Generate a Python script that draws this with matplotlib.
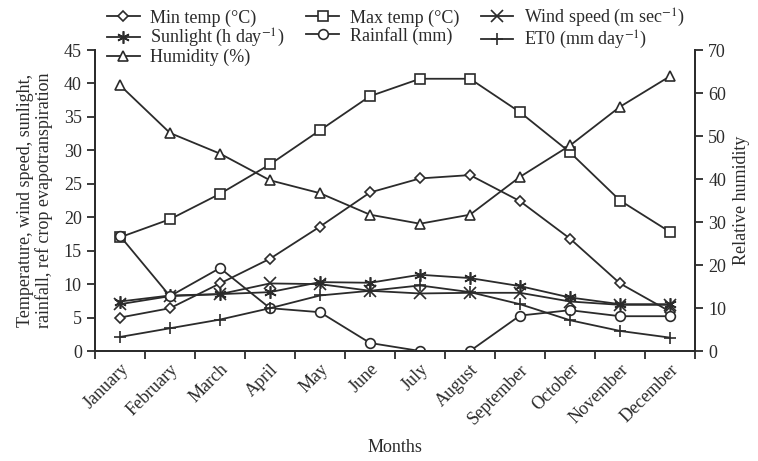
import matplotlib
matplotlib.use("Agg")
import matplotlib.pyplot as plt
import numpy as np

months = ["January", "February", "March", "April", "May", "June", "July",
          "August", "September", "October", "November", "December"]
min_temp = [5.0, 6.4, 10.1, 13.8, 18.6, 23.7, 25.8, 26.3, 22.4, 16.8, 10.1, 5.9]
max_temp = [17.0, 19.7, 23.5, 27.9, 33.0, 38.1, 40.7, 40.7, 35.7, 29.7, 22.5, 17.8]
wind_speed = [7.0, 8.2, 8.5, 10.1, 10.0, 9.0, 8.6, 8.7, 8.7, 7.4, 6.9, 6.9]
sunlight = [7.4, 8.3, 8.5, 8.8, 10.3, 10.2, 11.4, 10.9, 9.7, 8.0, 7.0, 7.0]
rainfall = [17.2, 8.2, 12.4, 6.4, 5.8, 1.2, 0.0, 0.0, 5.3, 6.1, 5.2, 5.2]
et0 = [2.1, 3.4, 4.7, 6.4, 8.3, 9.0, 9.8, 8.8, 7.0, 4.6, 3.0, 2.0]
humidity = [61.8, 50.7, 45.9, 39.7, 36.7, 31.7, 29.6, 31.7, 40.5, 47.8, 56.8, 63.9]

left_ticks = list(range(0, 46, 5))
right_ticks = list(range(0, 71, 10))

plt.rcParams['font.family'] = ['Liberation Serif', 'DejaVu Serif']
plt.rcParams['mathtext.fontset'] = 'stix'
FS = 13
col = '#2b2b2b'

fig = plt.figure(figsize=(7.58, 4.61), dpi=100)
ax = fig.add_axes([95/758, 1-351/461, 600/758, 301/461])
ax2 = ax.twinx()

x = np.arange(len(months))
lw = 1.3
common = dict(color=col, lw=lw, mec=col, mew=1.2)
h_min, = ax.plot(x, min_temp, marker='D', ms=5.5, mfc='white', label='Min temp (°C)', **common)
h_max, = ax.plot(x, max_temp, marker='s', ms=7, mfc='white', label='Max temp (°C)', **common)
h_wind, = ax.plot(x, wind_speed, marker='x', ms=8, label='Wind speed (m sec$^{-1}$)', **common)
h_sun, = ax.plot(x, sunlight, marker=(6, 2, 0), ms=9, label='Sunlight (h day$^{-1}$)', **common)
h_rain, = ax.plot(x, rainfall, marker='o', ms=7, mfc='white', label='Rainfall (mm)', **common)
h_et, = ax.plot(x, et0, marker='+', ms=9, label='ET0 (mm day$^{-1}$)', **common)
h_hum, = ax2.plot(x, humidity, marker='^', ms=6.5, mfc='white', label='Humidity (%)', **common)

ax.set_xlim(-0.5, 11.5)
ax.set_ylim(0, 45)
ax2.set_ylim(0, 70)
ax.set_yticks(left_ticks)
ax2.set_yticks(right_ticks)

ax.set_xticks(x)
ax.set_xticklabels(months, rotation=45, ha='right', rotation_mode='anchor', fontsize=FS)
ax.set_xticks(np.arange(-0.5, 12, 1), minor=True)
ax.tick_params(axis='x', which='major', length=0, pad=7)
ax.tick_params(axis='x', which='minor', length=6, width=1.3, direction='out', color=col)
ax.tick_params(axis='y', length=6, width=1.3, direction='out', labelsize=FS, color=col, labelcolor=col)
ax2.tick_params(axis='y', length=6, width=1.3, direction='out', labelsize=FS, color=col, labelcolor=col)
for lab in ax.get_xticklabels():
    lab.set_color(col)

for a in (ax, ax2):
    a.spines['top'].set_visible(False)
    for s in ('left', 'right', 'bottom'):
        a.spines[s].set_linewidth(1.3)
        a.spines[s].set_color(col)

ax.set_xlabel('Months', fontsize=FS, color=col, labelpad=8)
ax.set_ylabel('Temperature, wind speed, sunlight,\nrainfall, ref crop evapotranspiration',
              fontsize=FS, color=col, linespacing=1.05, labelpad=8)
ax2.set_ylabel('Relative humidity', fontsize=FS, color=col, labelpad=5)

handles = [h_min, h_sun, h_hum, h_max, h_rain, h_wind, h_et]
leg = fig.legend(handles=handles, labels=[h.get_label() for h in handles], ncol=3,
                 loc='upper left', bbox_to_anchor=(98/758, 1.005), frameon=False,
                 fontsize=FS, handlelength=1.8, handletextpad=0.6, columnspacing=1.2,
                 labelspacing=0.0, borderaxespad=0.1)
for t in leg.get_texts():
    t.set_color(col)

fig.savefig('out.png', dpi=100)
